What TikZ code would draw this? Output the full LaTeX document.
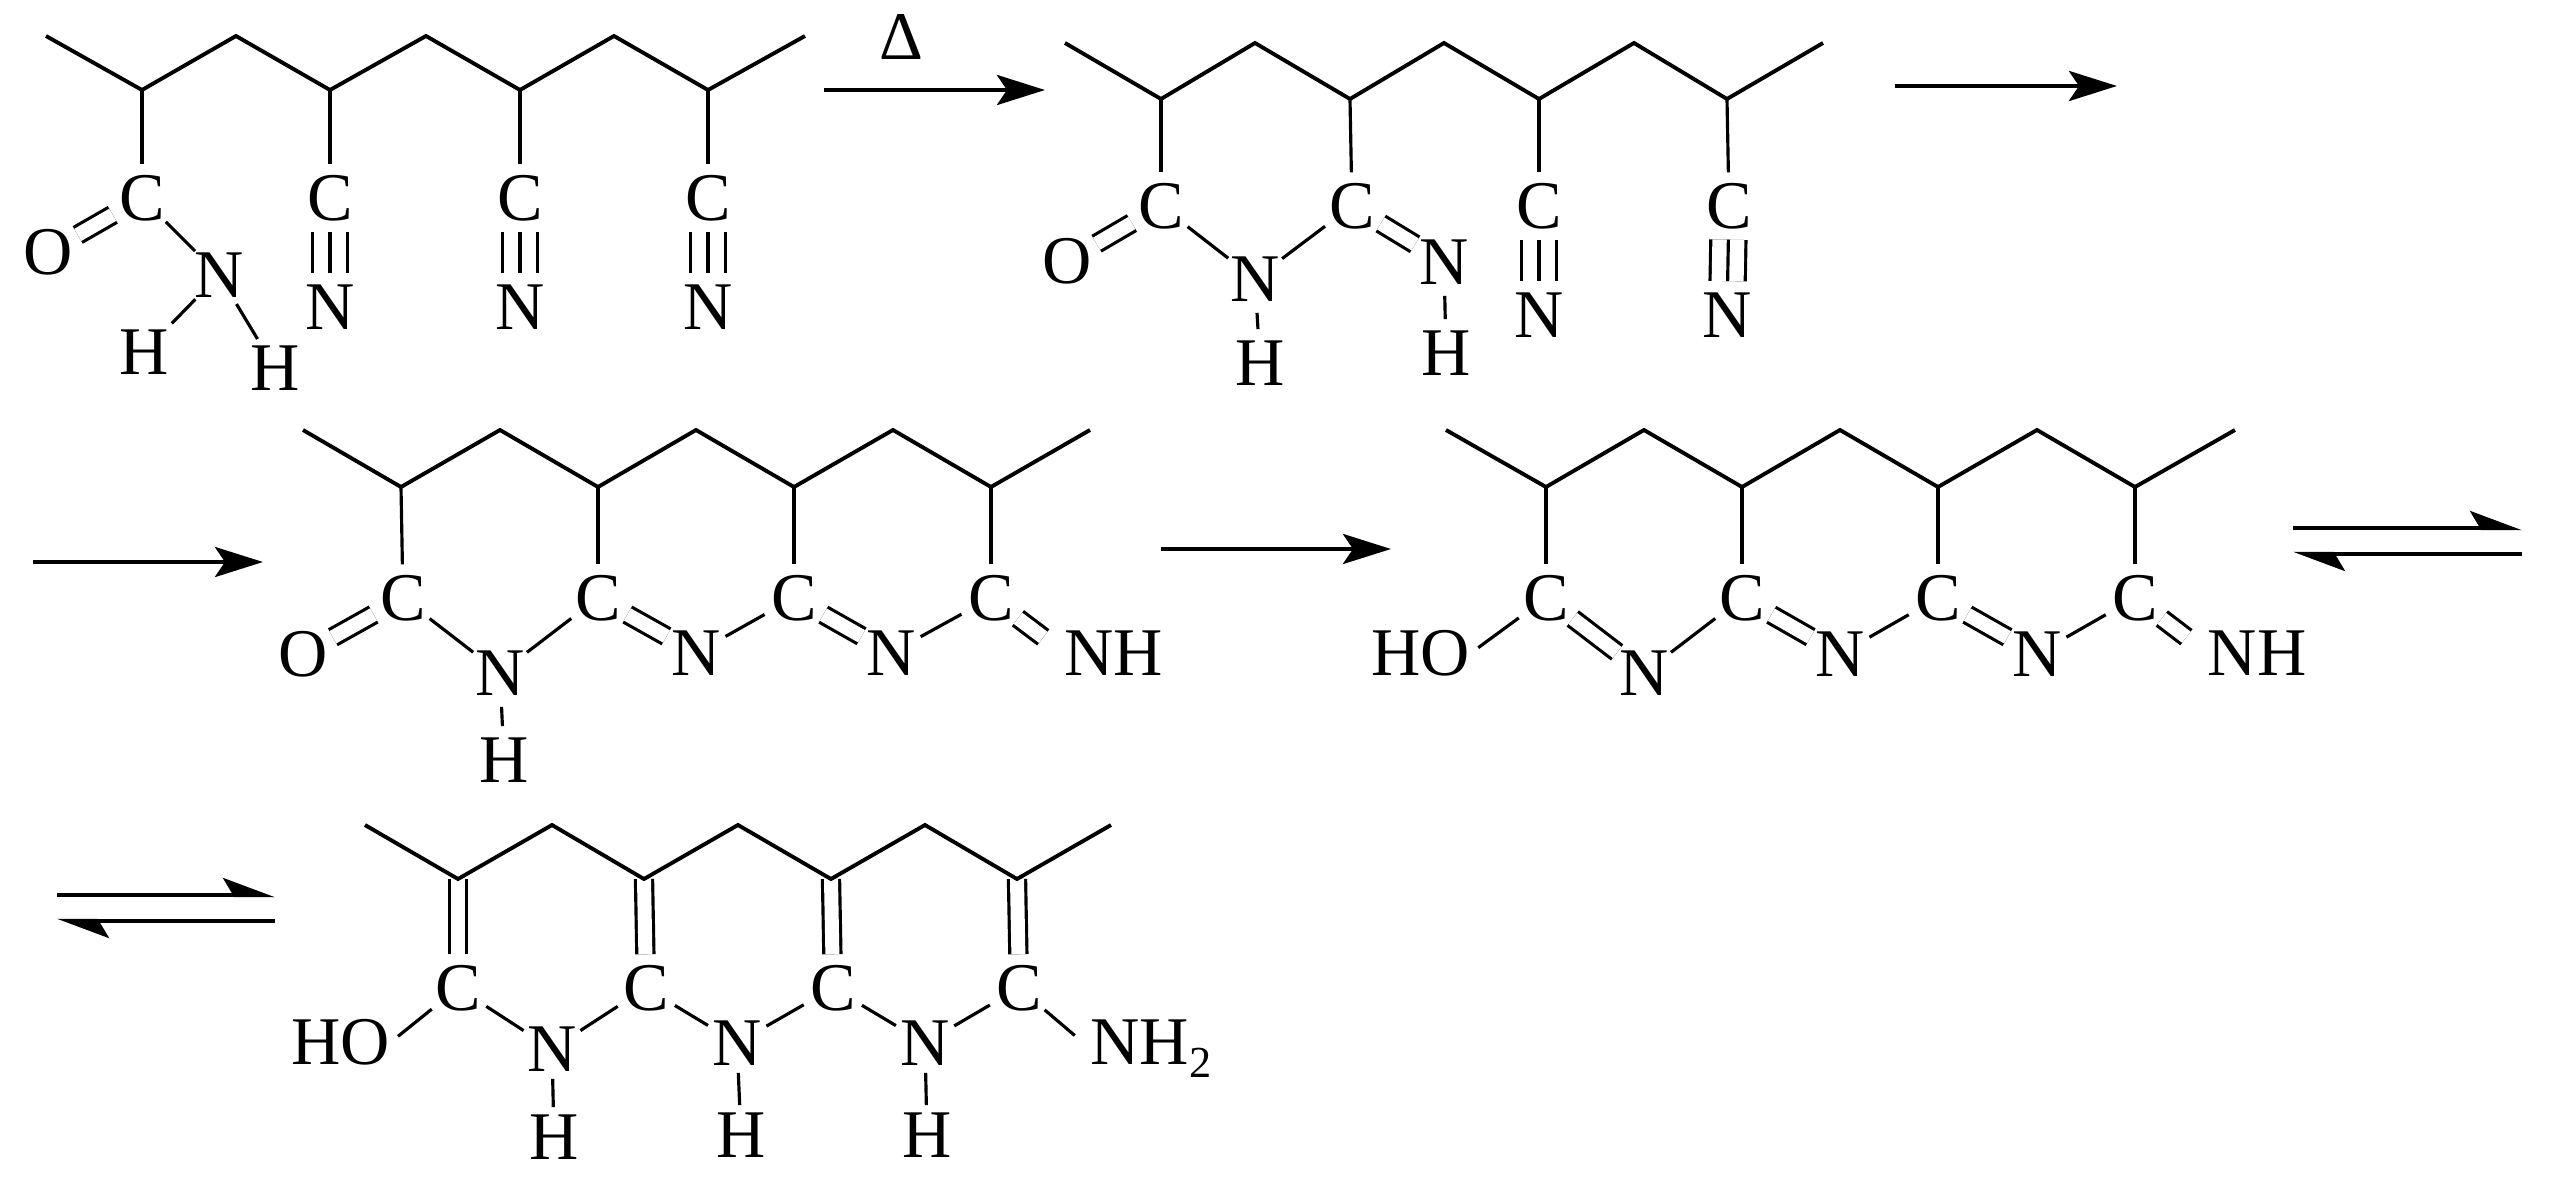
\documentclass[tikz,border=0pt]{standalone}
\usepackage{fontspec}
\setmainfont{Liberation Serif}
\usetikzlibrary{arrows.meta}
\tikzset{
  atom/.style={circle,inner sep=0pt,minimum size=0.66cm,font=\fontsize{19.4}{20}\selectfont},
  group/.style={inner sep=0pt,font=\fontsize{19.4}{20}\selectfont},
  chain/.style={line width=1.1pt},
  bond/.style={line width=0.9pt},
  dbl/.style={line width=0.9pt,double,double distance=0.14cm},
  tpl/.style={line width=0.9pt,double,double distance=0.32cm},
  rarrow/.style={line width=1.25pt,-{Stealth[length=4.8mm,width=3.0mm,inset=1.0mm]}},
  harrow/.style={line width=1.25pt,-{Stealth[harpoon,length=4.6mm,width=3.4mm,inset=1.0mm]}}
}
\begin{document}
\begin{tikzpicture}[x=0.01cm,y=-0.01cm]
  \useasboundingbox (0,0) rectangle (2550,1179);
  % first chain
  \coordinate (p10) at (46,36);  \coordinate (p11) at (142,90);
  \coordinate (p12) at (236,36); \coordinate (p13) at (330,90);
  \coordinate (p14) at (426,36); \coordinate (p15) at (520,90);
  \coordinate (p16) at (614,36); \coordinate (p17) at (708,90);
  \coordinate (p18) at (805,36);
  \node[atom] (c11) at (142,198) {C};
  \node[atom] (c12) at (330,198) {C};
  \node[atom] (c13) at (520,198) {C};
  \node[atom] (c14) at (708,198) {C};
  \node[atom] (o11) at (48,252)  {O};
  \node[atom] (n11) at (219,275) {N};
  \node[atom] (n12) at (330,307) {N};
  \node[atom] (n13) at (520,307) {N};
  \node[atom] (n14) at (708,307) {N};
  \node[atom] (h11) at (144,352) {H};
  \node[atom] (h12) at (275,368) {H};
  \draw[chain] (p10) -- (p11) -- (p12) -- (p13) -- (p14) -- (p15) -- (p16) -- (p17) -- (p18);
  \draw[bond] (p11) -- (c11);
  \draw[bond] (p13) -- (c12);
  \draw[bond] (p15) -- (c13);
  \draw[bond] (p17) -- (c14);
  \draw[dbl] (c11) -- (o11);
  \draw[bond] (c11) -- (n11);
  \draw[bond,shorten >=0.06cm] (n11) -- (h11);
  \draw[bond] (n11) -- (h12);
  \draw[tpl] (c12) -- (n12); \draw[bond] (c12) -- (n12);
  \draw[tpl] (c13) -- (n13); \draw[bond] (c13) -- (n13);
  \draw[tpl] (c14) -- (n14); \draw[bond] (c14) -- (n14);
  % heat arrow
  \node[group] (delta) at (901,37) {Δ};
  \coordinate (a1s) at (824,90); \coordinate (a1e) at (1045,90);
  \draw[rarrow] (a1s) -- (a1e);
  % second chain
  \coordinate (p20) at (1065,43);  \coordinate (p21) at (1161,99);
  \coordinate (p22) at (1255,43);  \coordinate (p23) at (1350,99);
  \coordinate (p24) at (1444,43);  \coordinate (p25) at (1539,99);
  \coordinate (p26) at (1634,43);  \coordinate (p27) at (1727,99);
  \coordinate (p28) at (1823,43);
  \node[atom] (c21) at (1161,206) {C};
  \node[atom] (c22) at (1352,206) {C};
  \node[atom] (c23) at (1539,206) {C};
  \node[atom] (c24) at (1729,206) {C};
  \node[atom] (o21) at (1067,261) {O};
  \node[atom] (n21) at (1255,279) {N};
  \node[atom] (n22) at (1444,262) {N};
  \node[atom] (n23) at (1539,315) {N};
  \node[atom] (n24) at (1727,315) {N};
  \node[atom] (h21) at (1260,363) {H};
  \node[atom] (h22) at (1446,353) {H};
  \draw[chain] (p20) -- (p21) -- (p22) -- (p23) -- (p24) -- (p25) -- (p26) -- (p27) -- (p28);
  \draw[bond] (p21) -- (c21);
  \draw[bond] (p23) -- (c22);
  \draw[bond] (p25) -- (c23);
  \draw[bond] (p27) -- (c24);
  \draw[dbl] (c21) -- (o21);
  \draw[bond] (c21) -- (n21);
  \draw[bond] (n21) -- (c22);
  \draw[bond] (n21) -- (h21);
  \draw[dbl] (c22) -- (n22);
  \draw[bond] (n22) -- (h22);
  \draw[tpl] (c23) -- (n23); \draw[bond] (c23) -- (n23);
  \draw[tpl] (c24) -- (n24); \draw[bond] (c24) -- (n24);
  \coordinate (a2s) at (1895,86); \coordinate (a2e) at (2117,86);
  \draw[rarrow] (a2s) -- (a2e);
  % third chain
  \coordinate (a3s) at (33,562); \coordinate (a3e) at (263,562);
  \draw[rarrow] (a3s) -- (a3e);
  \coordinate (p30) at (303,430);  \coordinate (p31) at (401,487);
  \coordinate (p32) at (500,430);  \coordinate (p33) at (598,487);
  \coordinate (p34) at (696,430);  \coordinate (p35) at (794,487);
  \coordinate (p36) at (893,430);  \coordinate (p37) at (991,487);
  \coordinate (p38) at (1090,430);
  \node[atom] (c31) at (403,598) {C};
  \node[atom] (c32) at (598,598) {C};
  \node[atom] (c33) at (794,598) {C};
  \node[atom] (c34) at (991,598) {C};
  \node[atom] (o31) at (303,654) {O};
  \node[atom] (n31) at (500,673) {N};
  \node[atom] (n32) at (696,653) {N};
  \node[atom] (n33) at (891,653) {N};
  \node[group] (nh3) at (1114,653) {NH};
  \node[atom] (h31) at (504,760) {H};
  \draw[chain] (p30) -- (p31) -- (p32) -- (p33) -- (p34) -- (p35) -- (p36) -- (p37) -- (p38);
  \draw[bond] (p31) -- (c31);
  \draw[bond] (p33) -- (c32);
  \draw[bond] (p35) -- (c33);
  \draw[bond] (p37) -- (c34);
  \draw[dbl] (c31) -- (o31);
  \draw[bond] (c31) -- (n31);
  \draw[bond] (n31) -- (c32);
  \draw[bond] (n31) -- (h31);
  \draw[dbl] (c32) -- (n32);
  \draw[bond] (n32) -- (c33);
  \draw[dbl] (c33) -- (n33);
  \draw[bond] (n33) -- (c34);
  \draw[dbl,shorten >=0.26cm] (c34) -- (nh3.west);
  \coordinate (a4s) at (1161,549); \coordinate (a4e) at (1391,549);
  \draw[rarrow] (a4s) -- (a4e);
  % fourth chain
  \coordinate (p40) at (1446,430);  \coordinate (p41) at (1546,487);
  \coordinate (p42) at (1644,430);  \coordinate (p43) at (1742,487);
  \coordinate (p44) at (1840,430);  \coordinate (p45) at (1938,487);
  \coordinate (p46) at (2037,430);  \coordinate (p47) at (2135,487);
  \coordinate (p48) at (2235,430);
  \node[atom] (c41) at (1546,598) {C};
  \node[atom] (c42) at (1742,598) {C};
  \node[atom] (c43) at (1938,598) {C};
  \node[atom] (c44) at (2135,598) {C};
  \node[group] (ho4) at (1421,653) {HO};
  \node[atom] (n41) at (1644,673) {N};
  \node[atom] (n42) at (1840,654) {N};
  \node[atom] (n43) at (2037,654) {N};
  \node[group] (nh4) at (2257,653) {NH};
  \draw[chain] (p40) -- (p41) -- (p42) -- (p43) -- (p44) -- (p45) -- (p46) -- (p47) -- (p48);
  \draw[bond] (p41) -- (c41);
  \draw[bond] (p43) -- (c42);
  \draw[bond] (p45) -- (c43);
  \draw[bond] (p47) -- (c44);
  \draw[bond,shorten <=0.09cm] (ho4.east) -- (c41);
  \draw[dbl] (c41) -- (n41);
  \draw[bond] (n41) -- (c42);
  \draw[dbl] (c42) -- (n42);
  \draw[bond] (n42) -- (c43);
  \draw[dbl] (c43) -- (n43);
  \draw[bond] (n43) -- (c44);
  \draw[dbl,shorten >=0.26cm] (c44) -- (nh4.west);
  % equilibrium arrows
  \coordinate (a5s) at (2293,528); \coordinate (a5e) at (2522,528);
  \coordinate (a6s) at (2522,554); \coordinate (a6e) at (2293,554);
  \draw[harrow] (a5s) -- (a5e);
  \draw[harrow] (a6s) -- (a6e);
  \coordinate (a7s) at (57,895); \coordinate (a7e) at (275,895);
  \coordinate (a8s) at (275,921); \coordinate (a8e) at (57,921);
  \draw[harrow] (a7s) -- (a7e);
  \draw[harrow] (a8s) -- (a8e);
  % last chain
  \coordinate (p50) at (365,825);  \coordinate (p51) at (458,879);
  \coordinate (p52) at (552,825);  \coordinate (p53) at (644,879);
  \coordinate (p54) at (738,825);  \coordinate (p55) at (831,879);
  \coordinate (p56) at (925,825);  \coordinate (p57) at (1017,879);
  \coordinate (p58) at (1111,825);
  \node[atom] (c51) at (458,988)  {C};
  \node[atom] (c52) at (646,988)  {C};
  \node[atom] (c53) at (833,988)  {C};
  \node[atom] (c54) at (1019,988) {C};
  \node[group] (ho5) at (341,1042) {HO};
  \node[atom] (n51) at (552,1049) {N};
  \node[atom] (n52) at (737,1043) {N};
  \node[atom] (n53) at (925,1043) {N};
  \node[group,anchor=base west] (nh5) at (1090,1064) {NH\raisebox{-0.2em}{\fontsize{12.6}{13}\selectfont 2}};
  \node[atom] (h51) at (554,1137) {H};
  \node[atom] (h52) at (741,1135) {H};
  \node[atom] (h53) at (927,1135) {H};
  \draw[dbl] (p51) -- (c51);
  \draw[dbl] (p53) -- (c52);
  \draw[dbl] (p55) -- (c53);
  \draw[dbl] (p57) -- (c54);
  \draw[chain] (p50) -- (p51) -- (p52) -- (p53) -- (p54) -- (p55) -- (p56) -- (p57) -- (p58);
  \draw[bond,shorten <=0.09cm] (ho5.east) -- (c51);
  \draw[bond] (c51) -- (n51);
  \draw[bond] (n51) -- (c52);
  \draw[bond] (c52) -- (n52);
  \draw[bond] (n52) -- (c53);
  \draw[bond] (c53) -- (n53);
  \draw[bond] (n53) -- (c54);
  \draw[bond,shorten >=0.2cm] (c54) -- (nh5.west);
  \draw[bond,shorten <=-0.04cm,shorten >=-0.04cm] (n51) -- (h51);
  \draw[bond,shorten <=-0.04cm,shorten >=-0.04cm] (n52) -- (h52);
  \draw[bond,shorten <=-0.04cm,shorten >=-0.04cm] (n53) -- (h53);
\end{tikzpicture}
\end{document}
